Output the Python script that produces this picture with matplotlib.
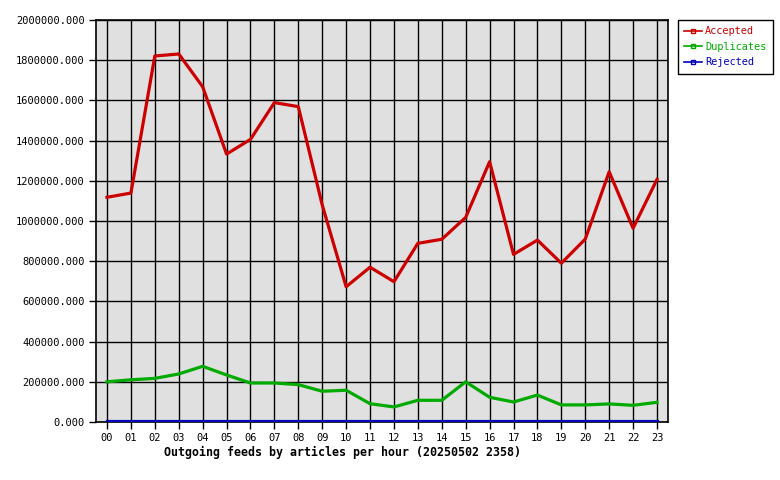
import matplotlib
matplotlib.use("Agg")
import matplotlib.pyplot as plt
from matplotlib.ticker import FuncFormatter
from matplotlib.lines import Line2D

hours = ["00","01","02","03","04","05","06","07","08","09","10","11",
         "12","13","14","15","16","17","18","19","20","21","22","23"]
accepted = [1118000, 1139000, 1821000, 1831000, 1668000, 1333000, 1406000, 1589000,
            1569000, 1080000, 673000, 770000, 698000, 889000, 909000, 1018000,
            1295000, 834000, 905000, 790000, 910000, 1245000, 964000, 1207000]
duplicates = [200000, 210000, 217000, 239000, 277000, 234000, 194000, 194000,
              186000, 153000, 158000, 91000, 75000, 108000, 108000, 200000,
              123000, 99500, 134000, 85000, 85000, 90000, 83000, 98000]
rejected = [7000]*24
series_names = ["Accepted", "Duplicates", "Rejected"]
colors = ["#cc0000", "#00aa00", "#0000bb"]
title = "Outgoing feeds by articles per hour (20250502 2358)"

plt.rcParams['font.family'] = ['DejaVu Sans Mono']
fig = plt.figure(figsize=(7.8, 4.8), dpi=100)
ax = fig.add_axes([96/780, 58/480, 572/780, 402/480])
ax.set_facecolor("#e0e0e0")
x = list(range(len(hours)))
for vals, name, c in zip([accepted, duplicates, rejected], series_names, colors):
    ax.plot(x, vals, color=c, lw=2.3, label=name, zorder=3)
ax.set_xlim(-0.46, 23.46)
ax.set_ylim(0, 2000000)
ax.set_xticks(x)
ax.set_xticklabels(hours)
ax.set_yticks(range(0, 2000001, 200000))
ax.yaxis.set_major_formatter(FuncFormatter(lambda v, p: "%.3f" % v))
ax.grid(True, color="black", lw=1.0, zorder=1)
ax.set_axisbelow(True)
for s in ax.spines.values():
    s.set_color("black"); s.set_linewidth(1.2)
ax.tick_params(axis='both', length=5, width=1, color='black', labelsize=7.5, pad=3)
fig.text(343/780, 1 - 452/480, title, fontsize=8.4, fontweight='bold',
         ha='center', va='center')

handles = [Line2D([0], [0], color=c, lw=1.2, marker='s', markersize=2.5,
                  markerfacecolor='none', markeredgecolor=c) for c in colors]
leg = fig.legend(handles, series_names, loc='upper left',
                 bbox_to_anchor=(678/780, 1 - 20/480), fancybox=False,
                 edgecolor='black', framealpha=1, fontsize=7.4, handlelength=1.75,
                 handletextpad=0.3, labelspacing=0.55, borderpad=0.6, borderaxespad=0)
leg.get_frame().set_linewidth(1.0)
for t, c in zip(leg.get_texts(), colors):
    t.set_color(c)
fig.savefig("out.png", dpi=100)
